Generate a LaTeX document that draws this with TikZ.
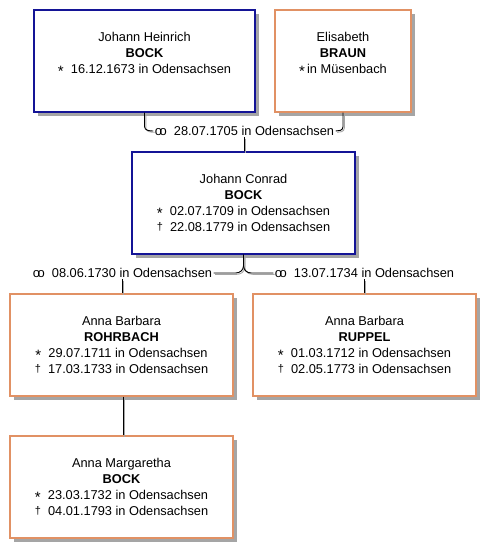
\documentclass[tikz,border=0pt]{standalone}
\usepackage{fontspec}
\setmainfont{Liberation Sans}
\usetikzlibrary{calc}
\definecolor{mblue}{RGB}{20,20,150}
\definecolor{morange}{RGB}{225,145,100}
\definecolor{shgray}{RGB}{165,165,165}
\newcommand\marr{{\fontsize{13}{13}\selectfont o\kern-2.6pt o}}
\newcommand\born{\raisebox{-3pt}{\fontsize{15}{15}\selectfont *}}
\newcommand\died{\raisebox{1pt}{\fontsize{11}{12}\selectfont †}}
\begin{document}
\begin{tikzpicture}[x=1pt,y=-1pt,
 person/.style={draw, line width=1.3pt, fill=white, minimum height=102pt, align=center, inner sep=0pt,
   font=\fontsize{12.8}{16}\selectfont,
   preaction={fill=shgray, draw=none, transform canvas={xshift=4pt,yshift=-4pt}}},
 male/.style={person, draw=mblue},
 female/.style={person, draw=morange},
 mlabel/.style={inner sep=1.5pt, font=\fontsize{12.8}{16}\selectfont},
 conn/.style={line width=0.9pt, preaction={draw=shgray, line width=0.9pt, transform canvas={xshift=1.3pt,yshift=-1.3pt}}}
]
\useasboundingbox (0,0) rectangle (496,558);
\fill[white] (0,0) rectangle (496,558);

\node[male, minimum width=221pt] (jh) at (144.5,61) {Johann Heinrich\\\textbf{BOCK}\\\born\ \ 16.12.1673 in Odensachsen\\\mbox{}};
\node[female, minimum width=136pt] (br) at (343,61) {Elisabeth\\\textbf{BRAUN}\\\born\,in Müsenbach\\\mbox{}};
\node[male, minimum width=223pt] (jc) at (243.5,203) {Johann Conrad\\\textbf{BOCK}\\\born\ \ 02.07.1709 in Odensachsen\\\died\ \ 22.08.1779 in Odensachsen};
\node[female, minimum width=223pt] (ro) at (121.5,345) {Anna Barbara\\\textbf{ROHRBACH}\\\born\ \ 29.07.1711 in Odensachsen\\\died\ \ 17.03.1733 in Odensachsen};
\node[female, minimum width=223pt] (ru) at (364.5,345) {Anna Barbara\\\textbf{RUPPEL}\\\born\ \ 01.03.1712 in Odensachsen\\\died\ \ 02.05.1773 in Odensachsen};
\node[female, minimum width=223pt] (am) at (121.5,487) {Anna Margaretha\\\textbf{BOCK}\\\born\ \ 23.03.1732 in Odensachsen\\\died\ \ 04.01.1793 in Odensachsen};

\node[mlabel] (m1) at (244.5,131) {\marr\ \ 28.07.1705 in Odensachsen};
\node[mlabel] (m2) at (122.5,273) {\marr\ \ 08.06.1730 in Odensachsen};
\node[mlabel] (m3) at (364.5,273) {\marr\ \ 13.07.1734 in Odensachsen};

\draw[conn] (jh.south) -- ++(0,14) .. controls +(0,4) and +(-3,0) .. (m1.west);
\draw[conn] (br.south) -- ++(0,14) .. controls +(0,4) and +(3,0) .. (m1.east);
\draw[conn] (m1.south) -- (m1.south |- jc.north);
\draw[conn] (jc.south) -- ++(0,11) .. controls +(0,5) and +(4,0) .. ($(m2.east -| jc.south)+(-8,0)$) -- (m2.east);
\draw[conn] (jc.south) -- ++(0,11) .. controls +(0,5) and +(-4,0) .. ($(m3.west -| jc.south)+(8,0)$) -- (m3.west);
\draw[conn] (m2.south) -- (m2.south |- ro.north);
\draw[conn] (m3.south) -- (m3.south |- ru.north);
\draw[conn] ([xshift=1.5pt]ro.south) -- ([xshift=1.5pt]am.north);
\end{tikzpicture}
\end{document}
